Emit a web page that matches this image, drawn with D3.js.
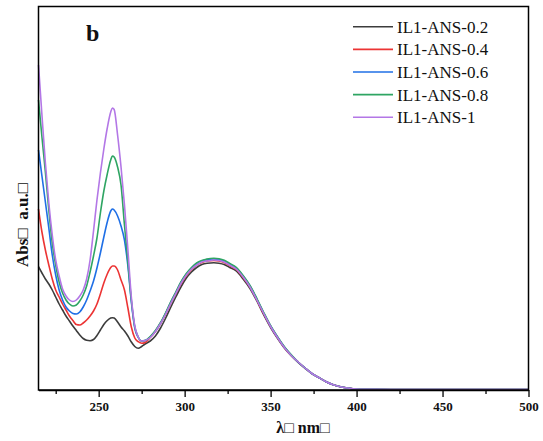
<!DOCTYPE html>
<html lang="en">
<head>
    <meta charset="UTF-8">
    <title>UV-vis spectra</title>
    <script src="https://d3js.org/d3.v7.min.js"></script>
    <style>
        body{ margin:0; background:#fff; }
        text{ font-family:"Times New Roman","Liberation Serif",serif; fill:#111; }
    </style>
</head>
<body>
<svg id="fig" width="543" height="441"></svg>

<script>
    // wavelength grid (nm)
    let wavelength = [215,217,219,221,223,225,227,229,231,233,235,237,239,241,243,245,247,249,251,253,255,257,258,259,261,263,265,267,269,271,273,275,277,
        280,283,286,289,292,295,298,301,304,307,310,313,317,320,323,326,330,334,338,342,346,350,354,358,362,366,370,374,378,382,386,390,395,400,405,410,420,450,500];

    let abs_02 = [1.233,1.17,1.11,1.06,1.00,0.93,0.86,0.80,0.74,0.69,0.64,0.595,0.55,0.515,0.497,0.493,0.505,0.545,0.60,0.655,0.695,0.72,0.723,0.72,0.68,0.63,0.59,0.54,0.48,0.435,0.417,0.435,0.46,
        0.49,0.54,0.62,0.72,0.83,0.935,1.035,1.12,1.18,1.225,1.255,1.268,1.273,1.268,1.255,1.228,1.19,1.11,1.015,0.89,0.75,0.625,0.517,0.42,0.342,0.275,0.217,0.163,0.124,0.085,0.055,0.035,0.02,0.01,0.007,0.006,0.005,0.005,0.005];
    let abs_04 = [1.81,1.58,1.40,1.25,1.11,1.00,0.93,0.86,0.80,0.74,0.695,0.655,0.65,0.67,0.70,0.74,0.79,0.86,0.96,1.07,1.16,1.225,1.24,1.24,1.20,1.10,1.00,0.82,0.63,0.52,0.483,0.467,0.475,
        0.525,0.585,0.665,0.76,0.87,0.97,1.065,1.145,1.205,1.25,1.275,1.29,1.295,1.29,1.275,1.245,1.205,1.125,1.03,0.90,0.76,0.635,0.525,0.425,0.345,0.28,0.22,0.165,0.125,0.085,0.055,0.035,0.02,0.01,0.007,0.006,0.005,0.005,0.005];
    let abs_06 = [2.40,2.14,1.88,1.62,1.35,1.15,1.00,0.90,0.83,0.79,0.765,0.76,0.78,0.83,0.90,0.99,1.09,1.22,1.37,1.53,1.68,1.79,1.81,1.80,1.74,1.64,1.50,1.24,0.88,0.62,0.525,0.49,0.495,
        0.53,0.59,0.67,0.77,0.88,0.98,1.08,1.16,1.22,1.265,1.29,1.305,1.31,1.305,1.29,1.26,1.22,1.14,1.04,0.91,0.77,0.64,0.53,0.43,0.35,0.28,0.22,0.165,0.125,0.085,0.055,0.035,0.02,0.01,0.007,0.006,0.005,0.005,0.005];
    let abs_08 = [2.90,2.53,2.18,1.80,1.47,1.25,1.08,0.97,0.90,0.86,0.84,0.85,0.89,0.95,1.04,1.18,1.34,1.52,1.77,1.99,2.16,2.30,2.34,2.33,2.23,2.05,1.65,1.28,0.90,0.63,0.53,0.49,0.495,
        0.535,0.595,0.675,0.775,0.885,0.985,1.085,1.165,1.225,1.27,1.295,1.31,1.317,1.312,1.297,1.267,1.226,1.145,1.045,0.915,0.775,0.643,0.532,0.432,0.351,0.28,0.22,0.165,0.125,0.085,0.055,0.035,0.02,0.01,0.007,0.006,0.005,0.005,0.005];
    let abs_10 = [3.25,2.75,2.27,1.87,1.55,1.30,1.14,1.01,0.94,0.90,0.885,0.90,0.94,1.00,1.11,1.30,1.59,1.90,2.17,2.41,2.62,2.78,2.82,2.805,2.55,2.23,1.85,1.40,0.93,0.64,0.53,0.49,0.495,
        0.525,0.585,0.665,0.76,0.87,0.97,1.07,1.15,1.21,1.25,1.28,1.29,1.30,1.295,1.28,1.25,1.21,1.13,1.03,0.90,0.765,0.635,0.525,0.425,0.345,0.28,0.22,0.165,0.125,0.085,0.055,0.035,0.02,0.01,0.007,0.006,0.005,0.005,0.005];

    let names = ["IL1-ANS-0.2","IL1-ANS-0.4","IL1-ANS-0.6","IL1-ANS-0.8","IL1-ANS-1"];
    let colors = ["#3c3c3c","#ec3434","#1f6fe6","#2fa563","#b377e6"];
    let series = [abs_02, abs_04, abs_06, abs_08, abs_10];
    let xTicks = [250,300,350,400,450,500];
    let xMinor = [225,275,325,375,425,475];

    let svg = d3.select("#fig");
    let mLeft = 38.5, mRight = 528.5, mTop = 6.5, mBottom = 390;

    let x = d3.scaleLinear().domain([215,500]).range([mLeft,mRight]);
    let y = d3.scaleLinear().domain([0,3.835]).range([mBottom,mTop]);

    let line = d3.line()
        .x(function(d){ return x(d[0]); })
        .y(function(d){ return y(d[1]); })
        .curve(d3.curveMonotoneX);

    let plot = svg.append("g");
    series.forEach(function(s,i){
        plot.append("path")
            .attr("d", line(d3.zip(wavelength, s)))
            .attr("fill","none")
            .attr("stroke",colors[i])
            .attr("stroke-width",1.6);
    });

    // frame
    svg.append("rect")
        .attr("x",mLeft).attr("y",mTop)
        .attr("width",mRight-mLeft).attr("height",mBottom-mTop)
        .attr("fill","none").attr("stroke","#000").attr("stroke-width",1.5);

    // x axis
    let xAxis = d3.axisBottom(x).tickValues(xTicks).tickSize(7).tickPadding(5).tickSizeOuter(0);
    let gx = svg.append("g").attr("transform","translate(0,"+mBottom+")").call(xAxis);
    gx.select(".domain").attr("stroke","#000").attr("stroke-width",1.5);
    gx.selectAll(".tick line").attr("stroke","#000").attr("stroke-width",1.3);
    gx.selectAll(".tick text")
        .style("font-family","'Times New Roman','Liberation Serif',serif")
        .style("font-size","13px").style("font-weight","bold").attr("fill","#111");

    let gm = svg.append("g").attr("transform","translate(0,"+mBottom+")")
        .call(d3.axisBottom(x).tickValues(xMinor).tickSize(4).tickFormat(""));
    gm.select(".domain").remove();
    gm.selectAll(".tick line").attr("stroke","#000").attr("stroke-width",1.3);

    // labels
    svg.append("text")
        .attr("x",303).attr("y",433)
        .attr("text-anchor","middle")
        .style("font-size","16px").style("font-weight","bold")
        .style("white-space","pre")
        .text("λ□ nm□");

    svg.append("text")
        .attr("transform","translate(28,225) rotate(-90)")
        .attr("text-anchor","middle")
        .style("font-size","17px").style("font-weight","bold")
        .style("white-space","pre")
        .text("Abs□  a.u.□");

    svg.append("text")
        .attr("x",86).attr("y",41)
        .style("font-size","24px").style("font-weight","bold")
        .text("b");

    // legend
    let legend = svg.append("g");
    names.forEach(function(n,i){
        let yy = 26.7 + i*22.65;
        legend.append("line")
            .attr("x1",353).attr("x2",393)
            .attr("y1",yy).attr("y2",yy)
            .attr("stroke",colors[i]).attr("stroke-width",1.6);
        legend.append("text")
            .attr("x",397).attr("y",yy+6)
            .style("font-size","17px")
            .text(n);
    });
</script>
</body>
</html>
